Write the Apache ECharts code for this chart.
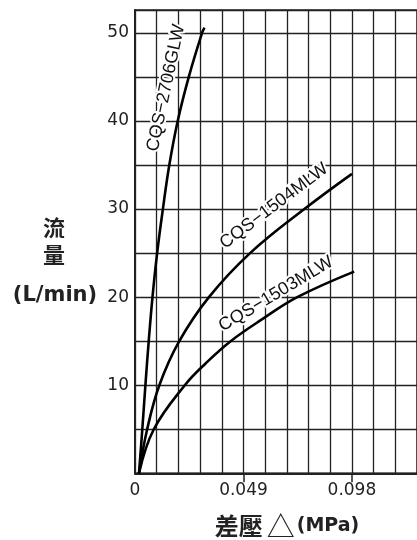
<!DOCTYPE html>
<html>
<head>
<meta charset="utf-8">
<script src="https://cdn.jsdelivr.net/npm/echarts@6/dist/echarts.min.js"></script>
<style>
html,body{margin:0;padding:0;background:#fff;}
#c{width:417px;height:540px;}
</style>
</head>
<body>
<div id="c"></div>
<script>
// ---- data ----
const seriesNames = ['CQS−2706GLW', 'CQS−1504MLW', 'CQS−1503MLW'];
const dp2706   = [0.0018, 0.0033, 0.0047, 0.0062, 0.0079, 0.0100, 0.0126, 0.0155, 0.0193, 0.0243, 0.0303, 0.0314];
const flow2706 = [0, 5, 10, 15, 20, 25, 30, 35, 40, 45, 50, 50.6];
const dp1504   = [0.0018, 0.0055, 0.0110, 0.0200, 0.0334, 0.0520, 0.0765, 0.0980];
const flow1504 = [0, 5, 10, 15, 20, 25, 30, 34];
const dp1503   = [0.0018, 0.0085, 0.0225, 0.0320, 0.0432, 0.0575, 0.0733, 0.0990];
const flow1503 = [0, 5, 10, 12.5, 15, 17.5, 20, 22.9];
const xTickLabels = [0, 0.049, 0.098];
const yTickLabels = [10, 20, 30, 40, 50];
const xStep = 0.0098, xMax = 0.1274;
const yStep = 5, yMax = 52.6;

const zip = (xs, ys) => xs.map((x, i) => [x, ys[i]]);
const lineColor = '#222';
const isLabel = (v, list) => list.some(t => Math.abs(t - v) < 1e-6);

const chart = echarts.init(document.getElementById('c'), null, {renderer: 'canvas'});
const curve = (name, xs, ys) => ({
  name, type: 'line', data: zip(xs, ys), smooth: 0.4, showSymbol: false,
  lineStyle: {color: '#000', width: 2.6}, z: 3, silent: true
});
const labelStyle = (text, x, y, deg) => ({
  type: 'text', x, y, rotation: deg * Math.PI / 180, z: 10,
  style: {
    text, fill: '#111', font: '18px "Liberation Sans", Arial, sans-serif',
    align: 'center', verticalAlign: 'middle',
    stroke: '#fff', lineWidth: 4
  }
});

chart.setOption({
  animation: false,
  backgroundColor: '#fff',
  grid: {left: 135, top: 10, width: 286, bottom: 66.7, show: true,
         borderColor: lineColor, borderWidth: 1.5, backgroundColor: 'transparent'},
  xAxis: [{
    type: 'value', min: 0, max: xMax, interval: xStep,
    axisLine: {show: true, onZero: false, lineStyle: {color: lineColor, width: 2}},
    axisTick: {show: false},
    axisLabel: {margin: 9, color: '#222', fontFamily: 'DejaVu Sans', fontSize: 17,
                showMaxLabel: false,
                formatter: v => !isLabel(v, xTickLabels) ? '' : (Math.abs(v) < 1e-9 ? '0' : v.toFixed(3))},
    splitLine: {show: true, lineStyle: {color: lineColor, width: 1.3}}
  }, {
    type: 'value', min: 0, max: xMax, position: 'bottom', show: true,
    axisLine: {show: false},
    axisTick: {show: true, customValues: xTickLabels.slice(1), length: 9, inside: false,
               lineStyle: {color: lineColor, width: 1.5}},
    axisLabel: {show: false},
    splitLine: {show: false}
  }],
  yAxis: {
    type: 'value', min: 0, max: yMax, interval: yStep,
    axisLine: {show: true, lineStyle: {color: lineColor, width: 2}},
    axisTick: {show: false},
    axisLabel: {margin: 6, color: '#222', fontFamily: 'DejaVu Sans', fontSize: 17,
                showMaxLabel: false,
                formatter: v => isLabel(v, yTickLabels) ? String(v) : ''},
    splitLine: {show: true, lineStyle: {color: lineColor, width: 1.3}}
  },
  series: [
    curve(seriesNames[0], dp2706, flow2706),
    curve(seriesNames[1], dp1504, flow1504),
    curve(seriesNames[2], dp1503, flow1503)
  ],
  graphic: [
    labelStyle(seriesNames[0], 166, 88, 78),
    labelStyle(seriesNames[1], 274, 206, 37),
    labelStyle(seriesNames[2], 276, 294, 31),
    {type: 'text', x: 54, y: 228, style: {text: '流', font: 'bold 22px "Noto Sans CJK TC"', fill: '#222', align: 'center', verticalAlign: 'middle'}},
    {type: 'text', x: 54, y: 255, style: {text: '量', font: 'bold 22px "Noto Sans CJK TC"', fill: '#222', align: 'center', verticalAlign: 'middle'}},
    {type: 'text', x: 55, y: 296, style: {text: '(L/min)', font: 'bold 21px "DejaVu Sans"', fill: '#222', align: 'center', verticalAlign: 'middle'}},
    {type: 'text', x: 287, y: 526, style: {
      rich: {
        c: {font: 'bold 24px "Noto Sans CJK TC"', fill: '#222'},
        t: {font: '28px "Noto Sans CJK TC"', fill: '#222', padding: [0, 2, 0, 4]},
        p: {font: 'bold 19px "DejaVu Sans"', fill: '#222'}
      },
      text: '{c|差壓}{t|△}{p|(MPa)}', align: 'center', verticalAlign: 'middle'
    }}
  ]
});
</script>
</body>
</html>
